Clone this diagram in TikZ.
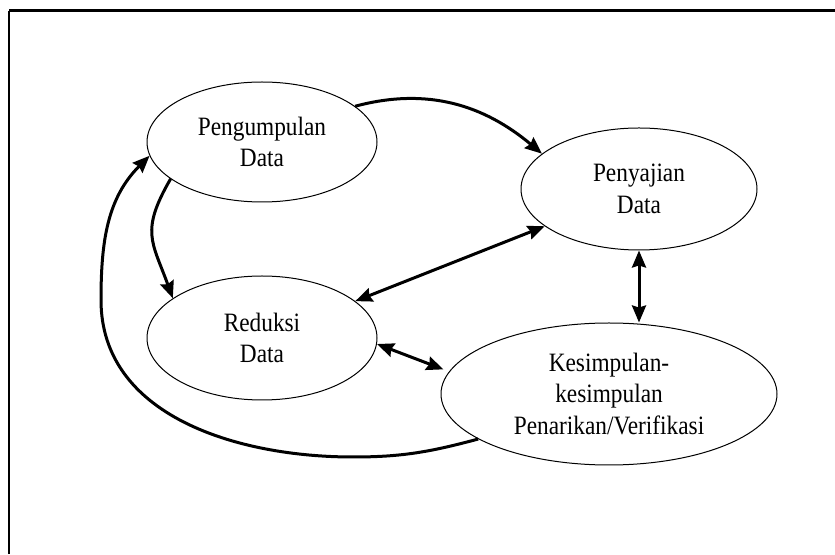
\documentclass[tikz,border=0pt]{standalone}
\usepackage{fontspec}
\setmainfont{Liberation Serif}[FakeStretch=0.88]
\usetikzlibrary{shapes.geometric,arrows.meta}
\begin{document}
\begin{tikzpicture}[x=1pt,y=1pt,
  blob/.style={draw,ellipse,line width=1pt,inner sep=0pt,align=center,
    font=\fontsize{26.5}{31.5}\selectfont},
  conn/.style={line width=3pt,-{Stealth[length=17pt,width=14pt,inset=2pt]}},
  dconn/.style={line width=3pt,{Stealth[length=17pt,width=14pt,inset=2pt]}-{Stealth[length=17pt,width=14pt,inset=2pt]}}]
\useasboundingbox (0,0) rectangle (835,554);
% frame
\coordinate (fl) at (9,0);
\coordinate (ftl) at (9,543);
\coordinate (ftr) at (835,543);
\draw[line width=2pt] (fl) -- (ftl);
\draw[line width=3pt] (ftl) -- (ftr);
% nodes
\node[blob,minimum width=230pt,minimum height=120pt] (p) at (262,412) {Pengumpulan\\Data};
\node[blob,minimum width=236pt,minimum height=122pt] (s) at (639,365) {Penyajian\\Data};
\node[blob,minimum width=230pt,minimum height=124pt] (r) at (262,216) {Reduksi\\Data};
\node[blob,minimum width=336pt,minimum height=142pt] (k) at (609,160) {Kesimpulan-\\kesimpulan\\Penarikan/Verifikasi};
% loop waypoints
\coordinate (f1) at (353,97);
\coordinate (f2) at (101,254);
% connectors
\draw[conn] (p.21) to[out=15,in=140] (s.160);
\draw[conn] (p.202) to[out=240,in=110,looseness=1.3] (r.156);
\draw[dconn] (r) -- (s);
\draw[dconn,shorten >=6pt] (r.-3) -- (k.172);
\draw[dconn] (s.south) -- (s.south |- k.north);
\draw[conn] (k.199) to[out=195,in=0] (f1) to[out=180,in=270] (f2) to[out=90,in=225] (p.187);
\end{tikzpicture}
\end{document}
